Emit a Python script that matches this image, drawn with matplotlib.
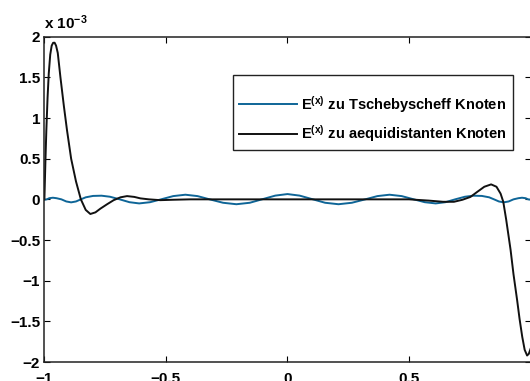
import matplotlib
matplotlib.use("Agg")
import matplotlib.pyplot as plt

plt.rcParams['font.family'] = ['Liberation Sans', 'DejaVu Sans']
plt.rcParams['font.weight'] = 'bold'
plt.rcParams['mathtext.fontset'] = 'custom'
plt.rcParams['mathtext.rm'] = 'Liberation Sans:bold'
plt.rcParams['mathtext.it'] = 'Liberation Sans:bold'
plt.rcParams['mathtext.bf'] = 'Liberation Sans:bold'

# Error values in units of 1e-3
cheb_x = [-1.0, -0.99, -0.98, -0.965, -0.95, -0.93, -0.91, -0.89, -0.87, -0.85, -0.83,
          -0.80, -0.765, -0.73, -0.69, -0.65, -0.61, -0.565, -0.52, -0.47, -0.42,
          -0.37, -0.32, -0.265, -0.21, -0.155, -0.105, -0.05, 0.0,
          0.05, 0.105, 0.155, 0.21, 0.265, 0.32, 0.37, 0.42, 0.47, 0.52, 0.565,
          0.61, 0.65, 0.69, 0.73, 0.765, 0.80, 0.83, 0.85, 0.87, 0.89, 0.91, 0.93,
          0.95, 0.965, 0.98, 0.99, 1.0]
cheb_y = [-0.004, 0.0, 0.014, 0.020, 0.014, 0.0, -0.026, -0.037, -0.026, 0.0, 0.025,
          0.042, 0.045, 0.032, 0.0, -0.035, -0.050, -0.035, 0.0, 0.040, 0.057,
          0.040, 0.0, -0.042, -0.060, -0.042, 0.0, 0.046, 0.065,
          0.046, 0.0, -0.042, -0.060, -0.042, 0.0, 0.040, 0.057, 0.040, 0.0, -0.035,
          -0.050, -0.035, 0.0, 0.032, 0.045, 0.042, 0.025, 0.0, -0.026, -0.037, -0.026, 0.0,
          0.014, 0.020, 0.014, 0.0, -0.004]

equi_x = [-1.0, -0.996, -0.992, -0.987, -0.982, -0.976, -0.970, -0.964, -0.958, -0.952,
          -0.945, -0.934, -0.920, -0.907, -0.890, -0.870, -0.850, -0.830, -0.811, -0.790,
          -0.770, -0.742, -0.715, -0.687, -0.660, -0.630, -0.605, -0.570, -0.523, -0.470,
          -0.400, -0.300, -0.150, 0.0, 0.150, 0.300, 0.400, 0.500, 0.580, 0.640, 0.685,
          0.720, 0.753, 0.780, 0.810, 0.838, 0.860, 0.877, 0.888, 0.900, 0.918, 0.930,
          0.945, 0.955, 0.966, 0.976, 0.986, 0.993, 1.0]
equi_y = [0.0, 0.45, 0.85, 1.25, 1.55, 1.78, 1.89, 1.925, 1.926, 1.89,
          1.80, 1.50, 1.15, 0.85, 0.50, 0.22, 0.0, -0.13, -0.18, -0.16,
          -0.115, -0.06, -0.01, 0.025, 0.04, 0.03, 0.012, 0.0, -0.01, -0.005,
          0.0, 0.0, 0.0, 0.0, 0.0, 0.0, 0.0, 0.0, -0.015, -0.03, -0.03,
          -0.005, 0.03, 0.09, 0.155, 0.184, 0.155, 0.07, -0.03, -0.25, -0.62, -0.92,
          -1.24, -1.47, -1.69, -1.85, -1.92, -1.90, -1.84]

labels = ['E$^{(x)}$ zu Tschebyscheff Knoten', 'E$^{(x)}$ zu aequidistanten Knoten']
xticks = [-1, -0.5, 0, 0.5, 1]
xticklabels = ['\u22121', '\u22120.5', '0', '0.5', '']
yticks = [-2, -1.5, -1, -0.5, 0, 0.5, 1, 1.5, 2]
yticklabels = ['\u22122', '\u22121.5', '\u22121', '\u22120.5', '0', '0.5', '1', '1.5', '2']

fig = plt.figure(figsize=(5.30, 3.81), dpi=100)
ax = fig.add_axes([44.4 / 530, 1 - 362 / 381, (530.5 - 44.4) / 530, (362 - 36.7) / 381])

ax.plot(cheb_x, cheb_y, color='#0e6597', lw=1.4, label=labels[0])
ax.plot(equi_x, equi_y, color='#111111', lw=1.4, label=labels[1])

ax.set_xlim(-1, 1)
ax.set_ylim(-2, 2)
ax.set_xticks(xticks)
ax.set_xticklabels(xticklabels)
ax.set_yticks(yticks)
ax.set_yticklabels(yticklabels)
ax.tick_params(direction='in', length=4, width=0.8, top=True, right=True,
               labelsize=11)
ax.tick_params(axis='x', pad=7)
ax.tick_params(axis='y', pad=3)
for lab in ax.get_xticklabels() + ax.get_yticklabels():
    lab.set_fontweight('bold')
for sp in ax.spines.values():
    sp.set_linewidth(1.1)
    sp.set_color('#222222')

ax.text(0.0, 1.015, 'x 10$^{\u22123}$', transform=ax.transAxes, ha='left', va='bottom',
        fontsize=11, fontweight='bold')

leg = ax.legend(loc='upper right', bbox_to_anchor=(0.963, 0.882), fontsize=10.5,
                frameon=True, fancybox=False, edgecolor='#222222', framealpha=1,
                handlelength=4.0, handletextpad=0.25, borderpad=0.4, labelspacing=0.6,
                borderaxespad=0, title=' ', title_fontsize=2.5)
leg.get_frame().set_linewidth(1.0)
for t in leg.get_texts():
    t.set_fontweight('bold')

fig.savefig('out.png', dpi=100)
